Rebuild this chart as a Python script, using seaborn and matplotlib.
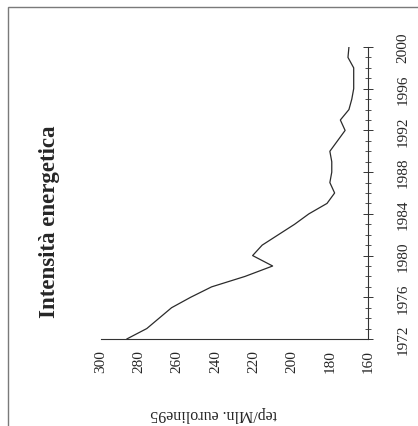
import numpy as np
import pandas as pd
import seaborn as sns
import matplotlib
matplotlib.use("Agg")
import matplotlib.pyplot as plt
from matplotlib.ticker import MultipleLocator

# energy intensity, tep per million euro (lire '95)
years = list(range(1972, 2001))
values = [286.5, 276, 269.5, 263, 253, 242, 224.5, 210, 220.5, 215.5,
          207, 198.5, 191, 181.5, 177.5, 180, 179, 179, 180, 176,
          172, 174.5, 170, 168.5, 167.5, 167.5, 167.5, 170.5, 170]
value_ticks = [300, 280, 260, 240, 220, 200, 180, 160]
year_ticks = [1972, 1976, 1980, 1984, 1988, 1992, 1996, 2000]

title = "Intensità energetica"
unit_label = "tep/Mln. euroline95"

sns.set_style("white")
plt.rcParams['font.family'] = ['Liberation Serif', 'DejaVu Serif']

df = pd.DataFrame({"year": years, "value": values})

W, H = 418, 427
fig = plt.figure(figsize=(W / 100, H / 100), dpi=100)
# the scanned chart is turned 90 degrees: values run along the bottom, years up the right side
ax = fig.add_axes([101 / W, 87 / H, 267 / W, 292 / H])

sns.lineplot(data=df, x="value", y="year", orient="y", sort=False,
             color="#2b2b2b", linewidth=0.9, ax=ax)

ax.set_xlim(300, 160)
ax.set_ylim(1972, 2000)
ax.set_xticks(value_ticks)
ax.set_yticks(year_ticks)
ax.yaxis.set_minor_locator(MultipleLocator(1))

for s in ["left", "top"]:
    ax.spines[s].set_visible(False)
for s in ["bottom", "right"]:
    ax.spines[s].set_color("#333333")
    ax.spines[s].set_linewidth(0.8)

ax.yaxis.tick_right()
ax.tick_params(axis="x", which="major", direction="inout", length=6, width=0.7,
               color="#333333", labelsize=11, labelrotation=90, pad=4)
ax.tick_params(axis="y", which="major", direction="inout", length=7, width=0.7,
               color="#333333", labelsize=11, labelrotation=90, pad=17)
ax.tick_params(axis="y", which="minor", direction="inout", length=5, width=0.6,
               color="#333333", right=True, left=False)
for lab in ax.get_xticklabels():
    lab.set_va("top")
for lab in ax.get_yticklabels():
    lab.set_va("center")

ax.set_ylabel("")
ax.set_xlabel(unit_label, fontsize=11.5, rotation=180)
ax.xaxis.set_label_coords(0.42, -0.225)

fig.text(50 / W, 1 - 222 / H, title, rotation=90, fontsize=16.5, fontweight="bold",
         ha="center", va="center")

# scanned page border
border = plt.Rectangle((8 / W, -0.2), 1.2, 1.2 - 8 / H, transform=fig.transFigure,
                       fill=False, edgecolor="#7a7a7a", linewidth=1.0, clip_on=False)
fig.add_artist(border)

fig.savefig("out.png", dpi=100)
